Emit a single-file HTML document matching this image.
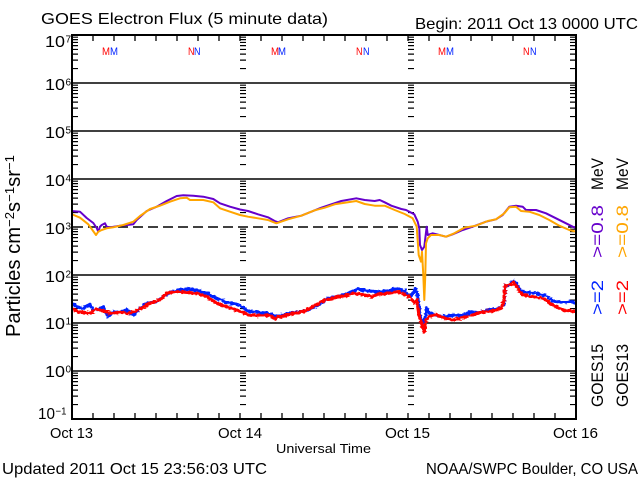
<!DOCTYPE html>
<html><head><meta charset="utf-8"><style>
html,body{margin:0;padding:0;background:#fff;}
svg{display:block;}
text{font-family:"Liberation Sans",sans-serif;}
</style></head><body>
<svg width="640" height="480" viewBox="0 0 640 480" xmlns="http://www.w3.org/2000/svg">
<defs>
<pattern id="mt" patternUnits="userSpaceOnUse" x="0" y="35" width="6" height="48">
<path d="M0 2.2h6M0 4.65h6M0 7.44h6M0 10.65h6M0 14.45h6M0 19.1h6M0 25.1h6M0 33.55h6" stroke="#000" stroke-width="1.2"/>
</pattern>
<clipPath id="pc"><rect x="73" y="36" width="502" height="382"/></clipPath>
<filter id="jit" x="-5%" y="-30%" width="110%" height="160%">
<feTurbulence type="fractalNoise" baseFrequency="0.35 0.6" numOctaves="1" seed="4"/>
<feDisplacementMap in="SourceGraphic" scale="4" xChannelSelector="R" yChannelSelector="G"/>
</filter>
</defs>
<rect width="640" height="480" fill="#fff"/>

<!-- titles -->
<text x="41" y="24" font-size="16" textLength="287" lengthAdjust="spacingAndGlyphs">GOES Electron Flux (5 minute data)</text>
<text x="415" y="29" font-size="16" textLength="223" lengthAdjust="spacingAndGlyphs">Begin: 2011 Oct 13 0000 UTC</text>

<!-- gridlines -->
<g stroke="#000" stroke-width="1.6">
<path d="M72 83H576M72 131H576M72 179H576M72 275H576M72 323H576M72 371H576"/>
</g>
<path d="M73 227H576" stroke="#000" stroke-width="1.5" stroke-dasharray="10 5"/>

<!-- minor ticks -->
<rect x="72" y="35" width="6" height="384" fill="url(#mt)"/>
<rect x="570" y="35" width="6" height="384" fill="url(#mt)"/>
<rect x="240" y="35" width="6" height="384" fill="url(#mt)"/>
<rect x="408" y="35" width="6" height="384" fill="url(#mt)"/>

<!-- time ticks -->
<path stroke="#000" stroke-width="1.3" d="M93 419v-6M114 419v-6M135 419v-6M156 419v-6M177 419v-6M198 419v-6M219 419v-6M240 419v-6M261 419v-6M282 419v-6M303 419v-6M324 419v-6M345 419v-6M366 419v-6M387 419v-6M408 419v-6M429 419v-6M450 419v-6M471 419v-6M492 419v-6M513 419v-6M534 419v-6M555 419v-6
M93 35v6M114 35v6M135 35v6M156 35v6M177 35v6M198 35v6M219 35v6M240 35v6M261 35v6M282 35v6M303 35v6M324 35v6M345 35v6M366 35v6M387 35v6M408 35v6M429 35v6M450 35v6M471 35v6M492 35v6M513 35v6M534 35v6M555 35v6"/>

<!-- data -->
<g clip-path="url(#pc)" fill="none" stroke-linejoin="round">
<polyline stroke="#6600cc" stroke-width="2" points="72,211 80,211.7 86.7,218 93.3,223 96.7,228 98.3,231.7 100,226.7 101.7,225 105,223.3 106.7,226.7 110,227.3 120,225.7 133.3,224.3 136.7,220 146.7,211 156.7,206.7 166.7,201 176.7,196 183.3,195.3 193.3,195.7 203.3,196.7 213.3,199 220,203.3 230,206.7 240,209.5 248,211 258,214.3 268,217.3 274.7,221 278,222.3 288,218.3 301.3,215.7 311.3,211.7 321.3,207.7 331.3,204.3 341.3,201 356.3,198.3 364.7,200 374.7,201 379.7,200 384.7,202.3 391.3,205.7 401.3,209 406,210 414.3,214.3 417.7,221.7 419.3,228.3 420,245 422,250 424.3,246.7 425.3,238.3 426.7,226.7 427.7,235 432.7,233.3 439.3,235 446,236.7 452.7,234.3 462.7,230 472.7,226.7 486,221.7 496,219.3 502.7,215 509.3,206.7 516,205.7 522.7,206.7 526,210 536,210 546,213.3 556,218.3 566,223.3 572.7,226.7 576,228"/>
<polyline stroke="#ffa500" stroke-width="2" points="72,214.3 80,217.7 88.3,224.3 91.7,229 96,235 98.3,231.7 101.7,230 106.7,228.3 113.3,227.3 123.3,225 133.3,221.7 140,216 150,209 160,205.7 170,201.7 180,198.3 186.7,197.7 190,200 203.3,200 213.3,202.3 220,208.3 230,211.7 240,215 248,216.7 258,218.3 268,220 276.3,223.3 288,219.3 301.3,215.7 314.7,210.3 324.7,207.7 334.7,204.3 348,202.3 356.3,201 364.7,204 374.7,205.7 384.7,205.7 394.7,210 404.7,214 412.7,218.3 416.7,226.7 418,245 418.7,255 421,261.7 422,251.7 423.3,275 424.3,300 425.3,275 426,243.3 427.7,238.3 431,235 439.3,235 446,236.7 454.3,233.3 464.3,227.7 476,225.7 487.7,221 496,219.3 504.3,213.3 509.3,207.3 516,206.7 521,211 529.3,211.7 539.3,215 549.3,220 559.3,225.7 569.3,230 576,231.7"/>
<g filter="url(#jit)">
<polyline stroke="#0022ff" stroke-width="3.2" points="72,303.3 76.7,306.7 83.3,308.3 90,304.3 93.3,310 100,309 103.3,306.7 108.3,316.7 113.3,311.7 120,312.3 126.7,310 133.3,315 140,308.3 146.7,303.3 156.7,301.7 163.3,296.7 170,292.3 180,290 186.7,289 196.7,290 206.7,293.3 216.7,298.3 226.7,302.3 236.7,304.3 242,307 248,311 258,312.3 268,313.3 278,316.7 288,313.3 298,312.3 308,310 318,305 328,298.3 338,296.7 348,293.3 358,289 368,291 378,291.7 388,291 398,288.3 404.7,291 406,293.3 411,296.7 415.3,288.3 417.7,295 419.3,311.7 421,320 422.7,323.3 424.3,321.7 426.7,308.3 429.3,313.3 436,315 442.7,316.7 452.7,315 462.7,315.7 469.3,312.3 479.3,312.3 489.3,310 499.3,308.3 503.7,305 505.3,285 509.3,285 513.3,281 516,283.3 521,291 526,292.3 536,293.3 546,295.7 552.7,301 562.7,302.3 572.7,301.7 576,303.3"/>
<polyline stroke="#ff0000" stroke-width="3.2" points="72,309 80,311.7 90,313.3 96.7,309 103.3,311 110,313.3 120,312.3 130,313.3 140,309 150,303.3 160,300 166.7,293.3 176.7,291.7 186.7,292.3 196.7,293.3 206.7,296.7 216.7,303.3 226.7,306.7 236.7,310 242,312 248,315 258,315.7 268,315 274.7,318.3 284.7,315.7 294.7,313.3 304.7,311 314.7,305.7 324.7,300 334.7,297.7 344.7,295.7 354.7,293.3 364.7,295 371.3,296.7 378,294.3 388,293.3 398,291.7 404.7,294.3 406,295 411,298.3 414.3,303.3 416.7,300 419.3,316.7 422,325 424.3,331.7 426,320 429.3,316.7 436,314.3 442.7,317.7 452.7,320 462.7,317.7 472.7,315 482.7,311.7 492.7,311 501,308.3 503.7,301.7 505.3,285 511,284.3 513.3,281.7 517.7,288.3 522.7,295 532.7,296.7 542.7,298.3 552.7,305 562.7,310 572.7,311 576,311.7"/>
</g>
</g>

<!-- border -->
<rect x="72" y="35" width="504" height="384" fill="none" stroke="#000" stroke-width="2"/>

<!-- M/N markers -->
<g font-size="11">
<text x="102" y="55" fill="#ff0000" textLength="8" lengthAdjust="spacingAndGlyphs">M</text>
<text x="110" y="55" fill="#0022ff" textLength="8" lengthAdjust="spacingAndGlyphs">M</text>
<text x="188" y="55" fill="#ff0000" textLength="6.5" lengthAdjust="spacingAndGlyphs">N</text>
<text x="194" y="55" fill="#0022ff" textLength="6.5" lengthAdjust="spacingAndGlyphs">N</text>
<text x="271" y="55" fill="#ff0000" textLength="8" lengthAdjust="spacingAndGlyphs">M</text>
<text x="278" y="55" fill="#0022ff" textLength="8" lengthAdjust="spacingAndGlyphs">M</text>
<text x="356" y="55" fill="#ff0000" textLength="6.5" lengthAdjust="spacingAndGlyphs">N</text>
<text x="363" y="55" fill="#0022ff" textLength="6.5" lengthAdjust="spacingAndGlyphs">N</text>
<text x="438" y="55" fill="#ff0000" textLength="8" lengthAdjust="spacingAndGlyphs">M</text>
<text x="446" y="55" fill="#0022ff" textLength="8" lengthAdjust="spacingAndGlyphs">M</text>
<text x="523" y="55" fill="#ff0000" textLength="6.5" lengthAdjust="spacingAndGlyphs">N</text>
<text x="530" y="55" fill="#0022ff" textLength="6.5" lengthAdjust="spacingAndGlyphs">N</text>
</g>

<!-- y tick labels -->
<g font-size="16">
<text x="45" y="47" textLength="20" lengthAdjust="spacingAndGlyphs">10</text>
<text x="45" y="90" textLength="20" lengthAdjust="spacingAndGlyphs">10</text>
<text x="45" y="138" textLength="20" lengthAdjust="spacingAndGlyphs">10</text>
<text x="45" y="186" textLength="20" lengthAdjust="spacingAndGlyphs">10</text>
<text x="45" y="234" textLength="20" lengthAdjust="spacingAndGlyphs">10</text>
<text x="45" y="282" textLength="20" lengthAdjust="spacingAndGlyphs">10</text>
<text x="45" y="329" textLength="20" lengthAdjust="spacingAndGlyphs">10</text>
<text x="45" y="377" textLength="20" lengthAdjust="spacingAndGlyphs">10</text>
<text x="38" y="419" textLength="17" lengthAdjust="spacingAndGlyphs">10</text>
</g>
<g font-size="10">
<text x="65.5" y="42.5">7</text>
<text x="65.5" y="85.5">6</text>
<text x="65.5" y="133.5">5</text>
<text x="65.5" y="181.5">4</text>
<text x="65.5" y="229.5">3</text>
<text x="65.5" y="277.5">2</text>
<text x="65.5" y="324.5">1</text>
<text x="65.5" y="372.5">0</text>
<text x="55.5" y="414.5" textLength="11" lengthAdjust="spacingAndGlyphs">−1</text>
</g>

<!-- y axis title -->
<text transform="translate(20,337) rotate(-90)" font-size="20" textLength="182" lengthAdjust="spacingAndGlyphs">Particles cm<tspan font-size="13" dy="-6">−2</tspan><tspan dy="6">s</tspan><tspan font-size="13" dy="-6">−1</tspan><tspan dy="6">sr</tspan><tspan font-size="13" dy="-6">−1</tspan></text>

<!-- x labels -->
<g font-size="15" text-anchor="middle">
<text x="71.5" y="438" textLength="43" lengthAdjust="spacingAndGlyphs">Oct 13</text>
<text x="240" y="438" textLength="44" lengthAdjust="spacingAndGlyphs">Oct 14</text>
<text x="407.5" y="438" textLength="45" lengthAdjust="spacingAndGlyphs">Oct 15</text>
<text x="575.5" y="438" textLength="45" lengthAdjust="spacingAndGlyphs">Oct 16</text>
</g>
<text x="276" y="453" font-size="13" textLength="95" lengthAdjust="spacingAndGlyphs">Universal Time</text>

<text x="2" y="474" font-size="16" textLength="265" lengthAdjust="spacingAndGlyphs">Updated 2011 Oct 15 23:56:03 UTC</text>
<text x="426" y="474" font-size="16" textLength="212" lengthAdjust="spacingAndGlyphs">NOAA/SWPC Boulder, CO USA</text>

<!-- right legend -->
<g font-size="17">
<text transform="translate(603,407) rotate(-90)" textLength="63" lengthAdjust="spacingAndGlyphs">GOES15</text>
<text transform="translate(603,315) rotate(-90)" fill="#0022ff" textLength="35" lengthAdjust="spacingAndGlyphs">&gt;=2</text>
<text transform="translate(603,258) rotate(-90)" fill="#6600cc" textLength="53" lengthAdjust="spacingAndGlyphs">&gt;=0.8</text>
<text transform="translate(603,190) rotate(-90)" textLength="32" lengthAdjust="spacingAndGlyphs">MeV</text>
<text transform="translate(628,407) rotate(-90)" textLength="63" lengthAdjust="spacingAndGlyphs">GOES13</text>
<text transform="translate(628,315) rotate(-90)" fill="#ff0000" textLength="35" lengthAdjust="spacingAndGlyphs">&gt;=2</text>
<text transform="translate(628,258) rotate(-90)" fill="#ffa500" textLength="53" lengthAdjust="spacingAndGlyphs">&gt;=0.8</text>
<text transform="translate(628,190) rotate(-90)" textLength="32" lengthAdjust="spacingAndGlyphs">MeV</text>
</g>
</svg>
</body></html>
